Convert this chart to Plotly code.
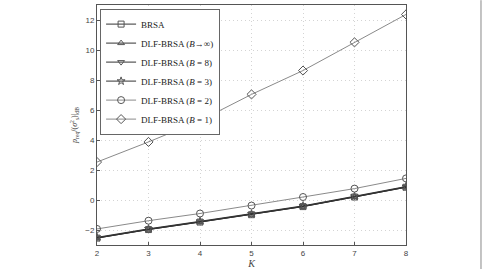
import plotly.graph_objects as go

K = [2, 3, 4, 5, 6, 7, 8]
brsa = [-2.54, -1.97, -1.47, -0.98, -0.44, 0.20, 0.85]
b_inf = [-2.54, -1.97, -1.47, -0.98, -0.44, 0.20, 0.85]
b8 = [-2.52, -1.95, -1.45, -0.96, -0.42, 0.22, 0.87]
b3 = [-2.49, -1.92, -1.42, -0.93, -0.39, 0.25, 0.90]
b2 = [-1.93, -1.38, -0.90, -0.37, 0.20, 0.76, 1.44]
b1 = [2.53, 3.87, 5.29, 7.04, 8.63, 10.51, 12.37]

names = ["BRSA", "DLF-BRSA (<i>B</i>→∞)", "DLF-BRSA (<i>B</i> = 8)",
         "DLF-BRSA (<i>B</i> = 3)", "DLF-BRSA (<i>B</i> = 2)", "DLF-BRSA (<i>B</i> = 1)"]
series = [brsa, b_inf, b8, b3, b2, b1]
symbols = ["square-open", "triangle-up-open", "triangle-down-open",
           "star-open", "circle-open", "diamond-open"]
lcolors = ["#333333", "#333333", "#333333", "#333333", "#8a8a8a", "#8a8a8a"]
sizes = [6, 6, 6, 6, 7, 7]

fig = go.Figure()
for n, s, sym, c, sz in zip(names, series, symbols, lcolors, sizes):
    fig.add_trace(go.Scatter(
        x=K, y=s, name=n, mode="lines+markers",
        line=dict(color=c, width=1),
        marker=dict(symbol=sym, size=sz, color="#555555", line=dict(width=1, color="#555555")),
    ))

axis_common = dict(
    showline=True, linecolor="#555555", linewidth=1, mirror=True,
    showgrid=True, gridcolor="#d4d4d4", griddash="1px,3px", gridwidth=1,
    ticks="inside", ticklen=3, tickcolor="#555555",
    tickfont=dict(family="Liberation Sans, Arial", size=8, color="#444444"),
    zeroline=False,
)

fig.update_layout(
    width=484, height=271,
    margin=dict(l=97, r=78, t=4, b=23),
    paper_bgcolor="white", plot_bgcolor="white",
    xaxis=dict(range=[2, 8], tickvals=K, **axis_common,
               title=dict(text="<i>K</i>", font=dict(family="Liberation Serif", size=10, color="#444444"), standoff=2)),
    yaxis=dict(range=[-3, 13], tickvals=[-2, 0, 2, 4, 6, 8, 10, 12], **axis_common,
               title=dict(text="<i>p</i><sub>req</sub>/(<i>σ</i><sup>2</sup><sub>s</sub>)|<sub>dB</sub>",
                          font=dict(family="Liberation Serif", size=8, color="#444444"), standoff=6)),
    legend=dict(x=0.01, y=0.985, xanchor="left", yanchor="top",
                bgcolor="white", bordercolor="#666666", borderwidth=1,
                font=dict(family="Liberation Serif", size=9, color="#222222"),
                tracegroupgap=0, itemwidth=30, entrywidth=110),
    shapes=[dict(type="line", xref="paper", yref="paper", x0=1.2427, x1=1.2427, y0=-0.1, y1=1.02,
                 line=dict(color="#888888", width=1))],
)

fig.write_html("out.html")
